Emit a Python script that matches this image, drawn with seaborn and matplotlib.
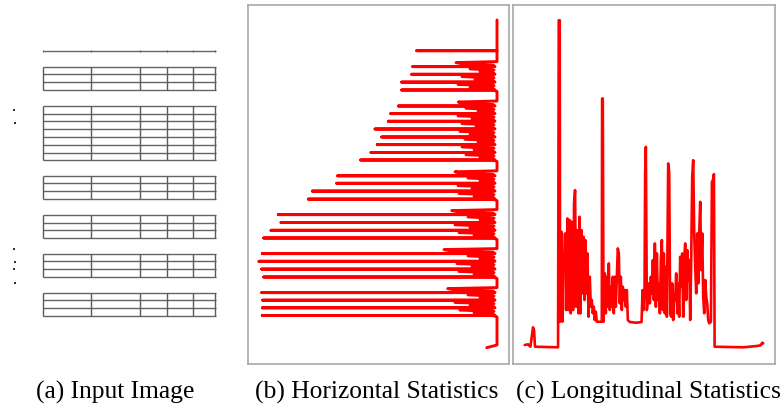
import matplotlib
matplotlib.use("Agg")
import matplotlib.pyplot as plt
import seaborn as sns

# -----------------------
# Input image: table rule rows (pixel rows) and column positions
# -----------------------
top_rule_row = 50.7
t1_rows = [66.6, 74.3, 82.1, 90.0]
t2_rows = [106.0, 113.6, 121.3, 129.0, 137.0, 144.6, 152.5, 160.0]
t3_rows = [175.8, 183.3, 191.1, 199.1]
t4_rows = [214.6, 222.5, 230.3, 238.0]
t5_rows = [253.6, 261.3, 269.1, 277.0]
t6_rows = [292.6, 300.2, 307.8, 315.5]
table_cols = [43, 91, 140, 167, 193, 215]
speck_x = [14, 15, 14, 15, 14, 15]
speck_y = [110, 123.3, 249.3, 261.7, 269.3, 283.3]

# -----------------------
# Horizontal statistics (value per row)
# -----------------------
h_start_row = 20
h_end_rows = [345, 347.7]
h_end_vals = [249, 238.7]
h_base = 249
top_spike = 168.7
t1_spikes = [164.7, 163.7, 153.7, 153.7]
t2_spikes = [150.3, 142.7, 140.3, 127.0, 133.7, 129.3, 123.0, 112.7]
t3_spikes = [89.7, 88.7, 64.3, 60.3]
t4_spikes = [30.3, 33.0, 23.0, 15.7]
t5_spikes = [14.3, 11.0, 13.7, 15.7]
t6_spikes = [13.7, 14.7, 14.3, 14.3]
shoulders = [208, 210.3, 207, 203.7, 196, 199.7]
t1_bands = [[222, 232], [214, 227], [210, 222]]
t2_bands = [[218, 230], [210, 224], [214, 228], [212, 222],
            [217, 230], [214, 226], [218, 232]]
t3_bands = [[220, 232], [210, 224], [211, 226]]
t4_bands = [[220, 232], [207, 222], [211, 226]]
t5_bands = [[220, 232], [209, 224], [211, 226]]
t6_bands = [[220, 232], [207, 222], [212, 226]]

# -----------------------
# Longitudinal statistics (value per column)
# -----------------------
v_cols = [15, 18.3, 20.7, 22, 23.3, 24.3, 25.3, 48.3, 49, 50, 50.3, 51.7, 52.7,
          53.3, 54.3, 55.3, 56.3, 57.7, 58.7, 60, 61, 62, 63.3, 64.3, 65.3, 66.3,
          67.7, 68.7, 69.7, 70.7, 71.7, 72.7, 73.7, 74.7, 75.7, 76.7, 77.7, 78.7,
          80, 81, 82, 83, 84, 85, 86, 87, 90, 92, 92.3, 93, 93.7, 95, 96, 97, 98,
          99, 100, 101, 102, 103, 104, 105, 106, 107, 108, 109, 110, 111, 112, 113,
          114, 115, 116, 117, 118, 120, 126.7, 131.7, 132.7, 133.7, 134.7, 135.3,
          136, 137, 138, 139, 140, 141, 142, 143, 144, 145, 146, 147, 148, 149,
          150, 151, 152, 153, 154, 155, 156, 157, 158.3, 159.3, 160.3, 161.3,
          162.3, 163.3, 164.3, 165.3, 166.3, 167.3, 168.3, 169.3, 170.3, 171.3,
          172.3, 173.3, 174.3, 175.3, 176.3, 177.3, 178.3, 179.3, 180.3, 181.3,
          182.3, 183.3, 184.3, 185.3, 186.3, 187.3, 188.3, 189.3, 190.3, 191.3,
          192.3, 193.3, 194.3, 195.3, 196.3, 197.3, 198.3, 199.3, 201, 202, 203,
          204, 204.7, 233.3, 240, 246.7, 250.7, 252.3, 253.3]
v_vals = [19, 19.7, 17.3, 27.3, 36.7, 34, 17.3, 16.7, 344, 344, 42.3, 132.3, 42.3,
          110.7, 100.7, 130.7, 54, 145.7, 54, 144, 50.7, 142.3, 54, 160.7, 174, 57.3,
          134, 50.7, 147.3, 50.7, 134, 70.7, 127.3, 64, 124, 70.7, 110.7, 47.3,
          87.3, 57.3, 64, 50.7, 57.3, 44, 52.3, 42.3, 42.3, 42.3, 265.7, 265.7, 42.3,
          90.7, 50.7, 87.3, 57.3, 100.7, 54, 77.3, 57.3, 87.3, 50.7, 87.3, 57.3,
          87.3, 115.7, 110.7, 60.7, 87.3, 54, 77.3, 64, 74, 57.3, 74, 44, 42, 41.3,
          42, 74, 54, 74, 190.7, 217.3, 54, 64, 80.7, 60.7, 87.3, 70.7, 104, 64,
          120.7, 57.3, 110.7, 64, 80.7, 50.7, 104, 124, 54, 110.7, 50.7, 97.3,
          47.3, 200.7, 192.3, 50.7, 47.3, 80.7, 44, 70.7, 64, 90.7, 50.7, 80.7,
          47.3, 107.3, 77.3, 110.7, 47.3, 104, 120.7, 64, 114, 84, 104, 44, 104,
          187.3, 204, 130.7, 97.3, 70.7, 130.7, 80.7, 130.7, 162.3, 94, 130.7,
          67.3, 50.7, 84, 67.3, 60.7, 44, 40.7, 42.3, 182.3, 184, 190, 17.3, 16.7,
          17.3, 18, 18.7, 21.3, 20.7]

captions = ["(a) Input Image", "(b) Horizontal Statistics",
            "(c) Longitudinal Statistics"]

tables = [
    (t1_rows, t1_spikes, t1_bands),
    (t2_rows, t2_spikes, t2_bands),
    (t3_rows, t3_spikes, t3_bands),
    (t4_rows, t4_spikes, t4_bands),
    (t5_rows, t5_spikes, t5_bands),
    (t6_rows, t6_spikes, t6_bands),
]

# build the horizontal profile path from the table pieces
h_rows = [h_start_row, top_rule_row, top_rule_row, top_rule_row]
h_vals = [h_base, h_base, top_spike, h_base]
for (rows, spikes, bands), sh in zip(tables, shoulders):
    r0 = rows[0]
    h_rows += [r0 - 5, r0 - 4, r0 - 2.5, r0 - 1.5]
    h_vals += [h_base, sh, sh + 8, h_base - 4]
    for i, r in enumerate(rows):
        h_rows += [r, r, r]
        h_vals += [h_base - 2, spikes[i], h_base - 4]
        if i < len(rows) - 1:
            gap = rows[i + 1] - r
            za, zb = bands[i]
            h_rows += [r + gap * 0.3, r + gap * 0.45, r + gap * 0.65, r + gap * 0.8]
            h_vals += [za, h_base - 3, zb, h_base - 4]
    h_rows.append(rows[-1] + 1.5)
    h_vals.append(h_base)
h_rows += h_end_rows
h_vals += h_end_vals

sns.set_style("white")
plt.rcParams["font.family"] = ["Liberation Serif", "DejaVu Serif"]

W, H = 784, 412
fig = plt.figure(figsize=(W / 100, H / 100), dpi=100)


def rect(x0, y0, x1, y1):
    return [x0 / W, (H - y1) / H, (x1 - x0) / W, (y1 - y0) / H]


# ===================================
# (a) Input image
# ===================================
ax_a = fig.add_axes(rect(0, 0, 245, 365))
ax_a.set_xlim(0, 245)
ax_a.set_ylim(365, 0)
ax_a.axis("off")

ax_a.hlines(top_rule_row, table_cols[0], table_cols[-1] + 1, color="#666666", lw=1.0)
ax_a.vlines(table_cols, top_rule_row - 1.2, top_rule_row + 1.2, color="#666666", lw=0.8)
for rows, _, _ in tables:
    ax_a.hlines(rows, table_cols[0], table_cols[-1] + 1, color="#646464", lw=1.0)
    ax_a.vlines(table_cols, rows[0], rows[-1], color="#5a5a5a", lw=1.0)
ax_a.scatter(speck_x, speck_y, s=3, marker="s", color="#333333", linewidths=0)

# ===================================
# (b) Horizontal statistics
# ===================================
ax_b = fig.add_axes(rect(248, 5, 509, 364))
sns.lineplot(x=h_vals, y=h_rows, sort=False, estimator=None,
             color="#ff0000", lw=2.1, ax=ax_b)
ax_b.set_xlim(0, 261)
ax_b.set_ylim(364, 5)

# ===================================
# (c) Longitudinal statistics
# ===================================
ax_c = fig.add_axes(rect(513, 5, 775, 364))
sns.lineplot(x=v_cols, y=v_vals, sort=False, estimator=None,
             color="#ff0000", lw=1.9, ax=ax_c)
ax_c.set_xlim(3.3, 265)
ax_c.set_ylim(0, 359.3)

for ax in (ax_b, ax_c):
    ax.set_xticks([])
    ax.set_yticks([])
    ax.set_xlabel("")
    ax.set_ylabel("")
    for sp in ax.spines.values():
        sp.set_visible(True)
        sp.set_color("#a8a8a8")
        sp.set_linewidth(1.2)

for cx, txt in zip([115, 377, 648], captions):
    fig.text(cx / W, (H - 399) / H, txt, ha="center", va="baseline",
             fontsize=18.4, color="black")

fig.savefig("out.png", dpi=100)
